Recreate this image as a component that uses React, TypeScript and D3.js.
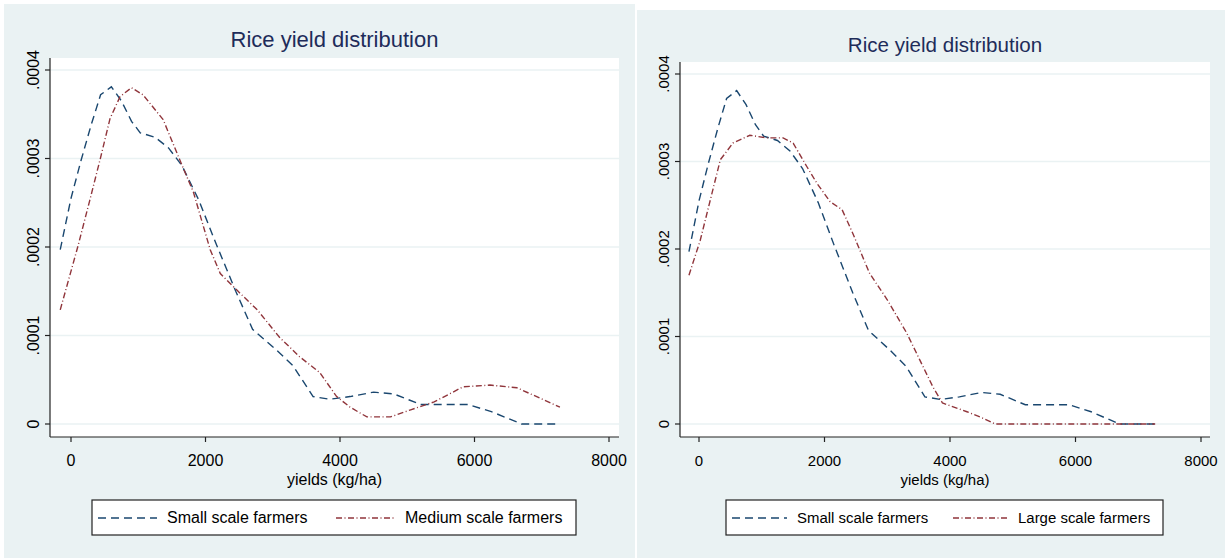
import React from 'react';
import * as d3 from 'd3';

// kernel density readings, yields in kg/ha
const smallYield = [-160, 0, 150, 300, 440, 600, 750, 900, 1030, 1250, 1450, 1650, 1900, 2150, 2450, 2700, 3050, 3300, 3600, 3850, 4150, 4500, 4800, 5200, 5900, 6250, 6700, 7270];
const smallDensity = [0.000197, 0.000255, 0.000298, 0.000338, 0.000372, 0.000381, 0.000365, 0.000342, 0.000329, 0.000324, 0.000312, 0.000292, 0.000253, 0.000205, 0.00015, 0.000107, 0.000084, 0.000066, 0.000031, 0.000028, 0.000031, 0.000036, 0.000034, 0.000022, 0.000022, 0.000014, 0.0, 0.0];

const mediumYield = [-160, 100, 280, 430, 580, 730, 900, 1070, 1370, 1620, 1820, 2070, 2220, 2470, 2770, 3100, 3400, 3700, 3950, 4150, 4400, 4750, 5050, 5400, 5830, 6230, 6630, 7270];
const mediumDensity = [0.000129, 0.0002, 0.000253, 0.000298, 0.000345, 0.00037, 0.00038, 0.000372, 0.000344, 0.000298, 0.000262, 0.000197, 0.00017, 0.000151, 0.000129, 0.000098, 0.000076, 0.000058, 0.000031, 0.000019, 0.000008, 0.000008, 0.000016, 0.000025, 0.000042, 0.000044, 0.000041, 0.000019];

const largeYield = [-160, 20, 180, 340, 540, 810, 1080, 1340, 1500, 1720, 1880, 2090, 2280, 2450, 2720, 3000, 3310, 3520, 3730, 3880, 4270, 4480, 4720, 7270];
const largeDensity = [0.00017, 0.00021, 0.000256, 0.000302, 0.000321, 0.00033, 0.000327, 0.000327, 0.000321, 0.000294, 0.000275, 0.000254, 0.000245, 0.000218, 0.000172, 0.000142, 0.000104, 0.000073, 0.000042, 0.000024, 0.000014, 0.000008, 0.0, 0.0];

const xTicks = [0, 2000, 4000, 6000, 8000];
const yTicks = [0, 0.0001, 0.0002, 0.0003, 0.0004];
const yTickLabels = ['0', '.0001', '.0002', '.0003', '.0004'];

const title = 'Rice yield distribution';
const xTitle = 'yields (kg/ha)';

const BLUE = '#1A476F';
const RED = '#90353B';
const BG = '#EAF2F3';
const FONT = '"Liberation Sans", Arial, sans-serif';

const zip = (xs, ys) => xs.map((x, i) => [x, ys[i]]);

const Panel = ({ p, secondLabel, secondX, secondY }) => {
  const x = d3.scaleLinear().domain([0, 8000]).range([p.x0, p.x8000]);
  const y = d3.scaleLinear().domain([0, 0.0004]).range([p.y0, p.y4]);
  const line = d3.line().x((d) => x(d[0])).y((d) => y(d[1]));
  const series = [
    { pts: zip(smallYield, smallDensity), color: BLUE, dash: '8,5', label: 'Small scale farmers' },
    { pts: zip(secondX, secondY), color: RED, dash: '6,2.5,1,2.5', label: secondLabel },
  ];
  const cx = (p.left + p.right) / 2;
  const fs = 16 * p.k;

  return (
    <g>
      <rect x={p.bgX} y={p.bgY} width={p.bgW} height={558 - p.bgY} fill={BG} />
      <text x={cx} y={p.titleY} textAnchor="middle" fontSize={22 * p.k} fill="#1E2C5A" fontFamily={FONT}>{title}</text>
      <rect x={p.left} y={p.top} width={p.right - p.left} height={p.bottom - p.top} fill="#fff" />
      {yTicks.map((t) => (
        <line key={'g' + t} x1={p.left} x2={p.right} y1={y(t)} y2={y(t)} stroke={BG} strokeWidth={1.5} />
      ))}
      {series.map((s, i) => (
        <path key={i} d={line(s.pts)} fill="none" stroke={s.color} strokeWidth={1.4} strokeDasharray={s.dash} />
      ))}
      <line x1={p.left} x2={p.left} y1={p.top} y2={p.bottom} stroke="#222" strokeWidth={1.2} />
      <line x1={p.left} x2={p.right} y1={p.bottom} y2={p.bottom} stroke="#222" strokeWidth={1.2} />
      {yTicks.map((t, i) => (
        <g key={'y' + t}>
          <line x1={p.left - 5} x2={p.left} y1={y(t)} y2={y(t)} stroke="#222" strokeWidth={1.2} />
          <text transform={`translate(${p.left - 11},${y(t)}) rotate(-90)`} textAnchor="middle" fontSize={fs} fontFamily={FONT} fill="#000">{yTickLabels[i]}</text>
        </g>
      ))}
      {xTicks.map((t) => (
        <g key={'x' + t}>
          <line x1={x(t)} x2={x(t)} y1={p.bottom} y2={p.bottom + 5} stroke="#222" strokeWidth={1.2} />
          <text x={x(t)} y={466} textAnchor="middle" fontSize={fs} fontFamily={FONT} fill="#000">{t}</text>
        </g>
      ))}
      <text x={cx} y={485} textAnchor="middle" fontSize={fs} fontFamily={FONT} fill="#000">{xTitle}</text>
      <rect x={p.legX} y={500} width={p.legW} height={35} fill="#fff" stroke="#222" strokeWidth={1.2} />
      {series.map((s, i) => {
        const kx = p.legX + 6 + i * p.legCol;
        return (
          <g key={'l' + i}>
            <line x1={kx} x2={kx + p.keyW} y1={518} y2={518} stroke={s.color} strokeWidth={1.4} strokeDasharray={s.dash} />
            <text x={kx + p.keyW + 10} y={523} fontSize={fs} fontFamily={FONT} fill="#000">{s.label}</text>
          </g>
        );
      })}
    </g>
  );
};

const leftPanel = { k: 1, bgX: 4, bgY: 4, bgW: 631, left: 50, right: 619, top: 58, bottom: 437, x0: 71, x8000: 609, y0: 424, y4: 70, titleY: 47, legX: 92, legW: 484, legCol: 238, keyW: 59 };
const rightPanel = { k: 0.935, bgX: 637, bgY: 10, bgW: 588, left: 680, right: 1210, top: 62, bottom: 437, x0: 699, x8000: 1201, y0: 424, y4: 74, titleY: 52, legX: 726, legW: 437, legCol: 221, keyW: 55 };

export default function App() {
  return (
    <svg width={1225} height={558} style={{ position: 'absolute', left: 0, top: 0, background: '#fff' }}>
      <Panel p={leftPanel} secondLabel="Medium scale farmers" secondX={mediumYield} secondY={mediumDensity} />
      <Panel p={rightPanel} secondLabel="Large scale farmers" secondX={largeYield} secondY={largeDensity} />
    </svg>
  );
}
